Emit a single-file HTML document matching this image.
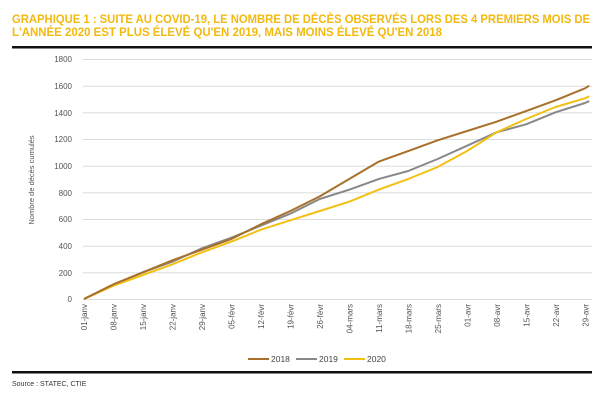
<!DOCTYPE html>
<html><head><meta charset="utf-8"><style>
body{margin:0;background:#fff;width:600px;height:400px;overflow:hidden;font-family:"Liberation Sans",sans-serif}
</style></head><body>
<svg width="600" height="400" xmlns="http://www.w3.org/2000/svg" font-family="Liberation Sans, sans-serif">
<text x="12" y="23" font-size="11.5" font-weight="bold" fill="#f2b90f" textLength="578" lengthAdjust="spacingAndGlyphs">GRAPHIQUE 1 : SUITE AU COVID-19, LE NOMBRE DE DÉCÈS OBSERVÉS LORS DES 4 PREMIERS MOIS DE</text>
<text x="12" y="36" font-size="11.5" font-weight="bold" fill="#f2b90f" textLength="430" lengthAdjust="spacingAndGlyphs">L'ANNÉE 2020 EST PLUS ÉLEVÉ QU'EN 2019, MAIS MOINS ÉLEVÉ QU'EN 2018</text>
<rect x="12" y="46" width="580" height="2.5" fill="#111"/>
<rect x="12" y="371" width="580" height="2.5" fill="#111"/>
<g stroke="#ddd" stroke-width="1">
<line x1="83" x2="592" y1="59.5" y2="59.5"/><line x1="83" x2="592" y1="86.2" y2="86.2"/><line x1="83" x2="592" y1="112.8" y2="112.8"/><line x1="83" x2="592" y1="139.5" y2="139.5"/><line x1="83" x2="592" y1="166.2" y2="166.2"/><line x1="83" x2="592" y1="192.8" y2="192.8"/><line x1="83" x2="592" y1="219.5" y2="219.5"/><line x1="83" x2="592" y1="246.2" y2="246.2"/><line x1="83" x2="592" y1="272.8" y2="272.8"/><line x1="83" x2="592" y1="299.5" y2="299.5"/>
</g>
<g font-size="8" fill="#555" text-anchor="end">
<text x="72" y="62">1800</text><text x="72" y="89">1600</text><text x="72" y="116">1400</text><text x="72" y="142">1200</text><text x="72" y="169">1000</text><text x="72" y="196">800</text><text x="72" y="222">600</text><text x="72" y="249">400</text><text x="72" y="276">200</text><text x="72" y="302">0</text>
</g>
<text transform="translate(34,180) rotate(-90)" font-size="7.5" fill="#555" text-anchor="middle">Nombre de décès cumulés</text>
<g font-size="8" fill="#555" text-anchor="end">
<text transform="translate(87,304) rotate(-90)">01-janv</text>
<text transform="translate(116.5,304) rotate(-90)">08-janv</text>
<text transform="translate(146,304) rotate(-90)">15-janv</text>
<text transform="translate(175.5,304) rotate(-90)">22-janv</text>
<text transform="translate(205,304) rotate(-90)">29-janv</text>
<text transform="translate(234.5,304) rotate(-90)">05-févr</text>
<text transform="translate(264,304) rotate(-90)">12-févr</text>
<text transform="translate(293.5,304) rotate(-90)">19-févr</text>
<text transform="translate(323,304) rotate(-90)">26-févr</text>
<text transform="translate(352.5,304) rotate(-90)">04-mars</text>
<text transform="translate(382,304) rotate(-90)">11-mars</text>
<text transform="translate(411.5,304) rotate(-90)">18-mars</text>
<text transform="translate(441,304) rotate(-90)">25-mars</text>
<text transform="translate(470.5,304) rotate(-90)">01-avr</text>
<text transform="translate(500,304) rotate(-90)">08-avr</text>
<text transform="translate(529.5,304) rotate(-90)">15-avr</text>
<text transform="translate(559,304) rotate(-90)">22-avr</text>
<text transform="translate(588.5,304) rotate(-90)">29-avr</text>
</g>
<g transform="translate(84,299) scale(4.21,-0.13333)" fill="none" stroke-width="2" stroke-linejoin="round">
<polyline vector-effect="non-scaling-stroke" stroke="#888" points="0,0 7,110 14,200 21,280 28,380 35,460 42,550 49,640 56,750 63,820 70,900 77,960 84,1050 91,1150 98,1250 105,1310 112,1400 119,1470 120,1485"/>
<polyline vector-effect="non-scaling-stroke" stroke="#f2c014" points="0,0 7,100 14,180 21,260 28,350 35,430 42,520 49,590 56,660 63,730 70,820 77,900 84,990 91,1110 98,1250 105,1350 112,1440 119,1505 120,1520"/>
<polyline vector-effect="non-scaling-stroke" stroke="#a8702a" points="0,0 7,110 14,200 21,290 28,370 35,450 42,560 49,660 56,770 63,900 70,1030 77,1110 84,1190 91,1260 98,1330 105,1410 112,1490 119,1580 120,1600"/>
</g>
<g font-size="8.5" fill="#444">
<line x1="248" x2="269" y1="359" y2="359" stroke="#a8702a" stroke-width="2"/><text x="271" y="362">2018</text>
<line x1="296" x2="317" y1="359" y2="359" stroke="#888" stroke-width="2"/><text x="319" y="362">2019</text>
<line x1="344" x2="365" y1="359" y2="359" stroke="#f2c014" stroke-width="2"/><text x="367" y="362">2020</text>
</g>
<text x="12" y="386" font-size="7" fill="#333">Source : STATEC, CTIE</text>
</svg>
</body></html>
